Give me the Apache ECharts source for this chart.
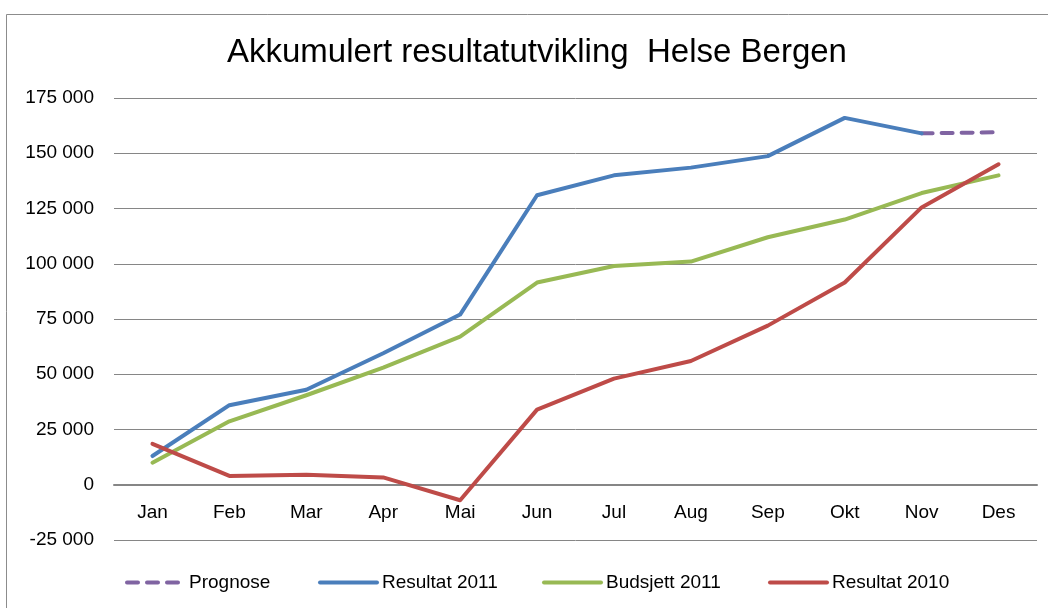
<!DOCTYPE html>
<html>
<head>
<meta charset="utf-8">
<script src="https://cdn.jsdelivr.net/npm/echarts@6/dist/echarts.min.js"></script>
<style>
html,body{margin:0;padding:0;background:#fff;}
#chart{width:1048px;height:608px;}
</style>
</head>
<body>
<div id="chart"></div>
<script>
const categories = ['Jan','Feb','Mar','Apr','Mai','Jun','Jul','Aug','Sep','Okt','Nov','Des'];
const prognose = [null,null,null,null,null,null,null,null,null,null,159000,159500];
const resultat2011 = [13000,36000,43000,59500,77000,131000,140000,143500,148700,166000,159000,null];
const budsjett2011 = [10000,28700,40500,53000,67000,91500,99000,101000,112000,120000,132000,140000];
const resultat2010 = [18500,4000,4500,3300,-7000,34000,48000,56000,72000,91500,125500,145000];
const yTicks = {min:-25000, max:175000, interval:25000};

const FONT = 'Liberation Sans';
function fmt(v){
  const s = Math.abs(v).toString().replace(/\B(?=(\d{3})+(?!\d))/g,' ');
  return (v<0?'-':'') + s;
}
const GRID = {left:114, right:11, top:98, bottom:68};
const plotH = 608 - GRID.top - GRID.bottom;
const zeroOffset = -plotH * (0 - yTicks.min) / (yTicks.max - yTicks.min);

const chart = echarts.init(document.getElementById('chart'), null, {renderer:'canvas'});
function lineSeries(name, data, color, dashed){
  return {
    name, type:'line', data, symbol:'none', connectNulls:false,
    lineStyle:{color, width:4, type: dashed ? [11,9] : 'solid', cap:'round', join:'round'},
    itemStyle:{color},
    emphasis:{disabled:true}, animation:false
  };
}
const legendTextStyle = {fontFamily:FONT, fontSize:19, color:'#000'};
function leg(name, left){
  return {data:[name], left, top:568, itemWidth:57, itemHeight:4,
    lineStyle:{width:4, cap:'round'},
    textStyle:legendTextStyle, selectedMode:false};
}
chart.setOption({
  backgroundColor:'#fff',
  animation:false,
  title:{
    text:'Akkumulert resultatutvikling  Helse Bergen',
    left:222, top:31,
    textStyle:{fontFamily:FONT, fontSize:33, fontWeight:'normal', color:'#000'}
  },
  graphic:[{type:'rect', shape:{x:6.5, y:14.5, width:1100, height:700}, style:{fill:'none', stroke:'#8c8c8c', lineWidth:1}, silent:true, z:-1}],
  legend:[leg('Prognose',120), leg('Resultat 2011',313), leg('Budsjett 2011',537), leg('Resultat 2010',763)],
  grid:Object.assign({containLabel:false}, GRID),
  xAxis:{
    type:'category', data:categories, boundaryGap:true,
    offset: zeroOffset,
    axisLine:{onZero:false, lineStyle:{color:'#868686', width:2}},
    axisTick:{show:false},
    axisLabel:{fontFamily:FONT, fontSize:19, color:'#000', margin:19},
    splitLine:{show:false}
  },
  yAxis:{
    type:'value', min:yTicks.min, max:yTicks.max, interval:yTicks.interval,
    axisLine:{show:false}, axisTick:{show:false},
    axisLabel:{fontFamily:FONT, fontSize:19, color:'#000', margin:20, formatter:fmt},
    splitLine:{lineStyle:{color:'#868686', width:1}}
  },
  series:[
    lineSeries('Prognose', prognose, '#8064a2', true),
    lineSeries('Resultat 2011', resultat2011, '#4a7ebb', false),
    lineSeries('Budsjett 2011', budsjett2011, '#98b954', false),
    lineSeries('Resultat 2010', resultat2010, '#be4b48', false)
  ]
});
</script>
</body>
</html>
